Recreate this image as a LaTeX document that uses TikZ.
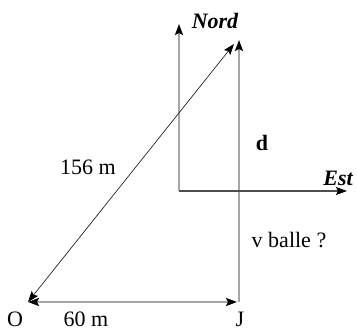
\documentclass[tikz,border=0pt]{standalone}
\usepackage{fontspec}
\setmainfont{Liberation Serif}
\usetikzlibrary{arrows.meta}
\begin{document}
\begin{tikzpicture}[x=1pt,y=-1pt,
  >={Stealth[length=11pt,width=8pt,inset=2pt,color=black]},
  greyline/.style={draw=black!35,line width=2pt},
  lbl/.style={inner sep=0pt,font=\fontsize{22}{26}\selectfont},
  blbl/.style={inner sep=0pt,font=\fontsize{22}{26}\selectfont\bfseries\itshape}]
\useasboundingbox (0,0) rectangle (357,331);
\coordinate (O) at (28,302);
\coordinate (J) at (239,302);
\coordinate (J2) at (237,302);
\coordinate (T) at (239,40);
\coordinate (D) at (234,44);
\coordinate (A) at (179,191);
\coordinate (N) at (179,24);
\coordinate (E) at (347,191);
% grey lines
\draw[greyline,<->] (O) -- (J2);
\draw[greyline,->] (J) -- (T);
\draw[greyline,->] (A) -- (N);
\draw[draw=black!70,line width=1.3pt,->] (A) -- (E);
\draw[draw=black!85,line width=0.7pt,<->] (O) -- (D);
% labels
\node[blbl] (nord) at (215,21) {Nord};
\node[blbl] (est) at (338,178) {Est};
\node[lbl,font=\fontsize{22}{26}\selectfont\bfseries] (d) at (262,143) {d};
\node[lbl] (l156) at (88,167) {156 m};
\node[lbl] (vb) at (289,240) {v balle ?};
\node[lbl,anchor=base] (lo) at (15,327) {O};
\node[lbl,anchor=base] (l60) at (86,327) {60 m};
\node[lbl,anchor=base] (lj) at (240,327) {J};
\end{tikzpicture}
\end{document}
